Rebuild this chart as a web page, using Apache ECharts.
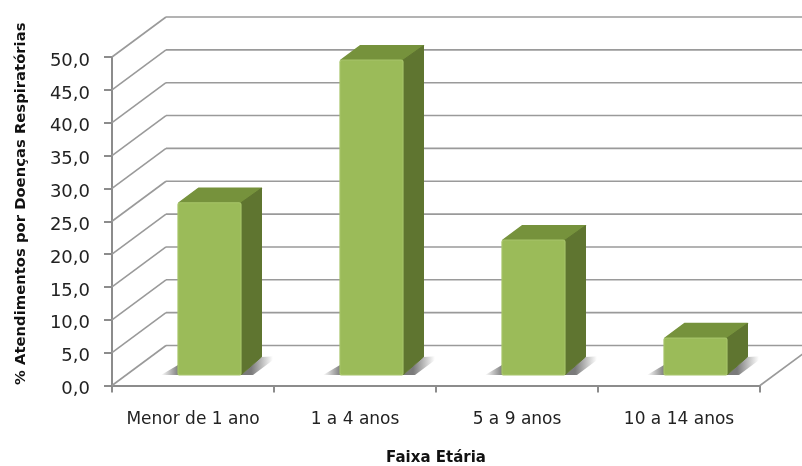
<!DOCTYPE html>
<html>
<head>
<meta charset="utf-8">
<style>html,body{margin:0;padding:0;background:#fff}#chart{width:802px;height:466px}</style>
<script src="https://cdn.jsdelivr.net/npm/echarts@6/dist/echarts.min.js"></script>
</head>
<body>
<div id="chart"></div>
<script>
// Respiratory-care visits by age group
const categories = ['Menor de 1 ano', '1 a 4 anos', '5 a 9 anos', '10 a 14 anos'];
const percentValues = [26.2, 47.9, 20.5, 5.6];
const valueTicks = [0, 5, 10, 15, 20, 25, 30, 35, 40, 45, 50];

// Oblique projection of the chart box
const WALL_DX = 54, WALL_DY = -40;
const BAR_DX = 16.5, BAR_DY = -10.6, BAR_W = 63;
const DEPTH_DX = 20.5, DEPTH_DY = -14.5, DEPTH_FLOOR_DY = -18;
const FONT = '"DejaVu Sans", sans-serif';

const gridStyle = { stroke: '#9a9a9a', lineWidth: 1.6, fill: null };

function line(x1, y1, x2, y2) {
  return { type: 'line', shape: { x1, y1, x2, y2 }, style: gridStyle, silent: true };
}

function renderWall(params, api) {
  const p = api.coord([0, api.value(0)]);
  const cs = params.coordSys;
  const x0 = cs.x, x1 = cs.x + cs.width;
  const backX = x0 + WALL_DX, backY = p[1] + WALL_DY;
  const kids = [
    line(x0, p[1], backX, backY),
    line(backX, backY, x1 + WALL_DX, backY)
  ];
  if (api.value(0) === 0) kids.push(line(x1, p[1], x1 + WALL_DX, backY));
  return { type: 'group', children: kids };
}

function renderBar(params, api) {
  const i = api.value(0);
  const base = api.coord([i, 0]);
  const top = api.coord([i, api.value(1)]);
  const l = base[0] + BAR_DX - BAR_W / 2, r = l + BAR_W;
  const by = base[1] + BAR_DY, ty = top[1] + BAR_DY;
  return {
    type: 'group',
    children: [
      // cast shadow on the floor, left and right of the bar
      { type: 'polygon', silent: true,
        shape: { points: [[l, by], [l - 17, by], [l, by - 10]] },
        style: { fill: { type: 'linear', x: 1, y: 0, x2: 0, y2: 0,
          colorStops: [{ offset: 0, color: '#808080' }, { offset: 1, color: '#ffffff' }] } } },
      { type: 'polygon', silent: true,
        shape: { points: [[r, by], [r + DEPTH_DX, by + DEPTH_FLOOR_DY], [r + DEPTH_DX + 17, by + DEPTH_FLOOR_DY - 1], [r + 12, by]] },
        style: { fill: { type: 'linear', x: 0.27, y: 0.5, x2: 0.85, y2: 0.5,
          colorStops: [{ offset: 0, color: '#7a7a7a' }, { offset: 0.55, color: '#c4c4c4' }, { offset: 1, color: '#ffffff' }] } } },
      // top face
      { type: 'polygon', silent: true,
        shape: { points: [[l + 1, ty], [l + DEPTH_DX, ty + DEPTH_DY], [r + DEPTH_DX, ty + DEPTH_DY], [r, ty]] },
        style: { fill: '#76923c', stroke: '#76923c', lineWidth: 1.5, lineJoin: 'round' } },
      // side face
      { type: 'polygon', silent: true,
        shape: { points: [[r, ty], [r + DEPTH_DX, ty + DEPTH_DY], [r + DEPTH_DX, by + DEPTH_FLOOR_DY], [r, by]] },
        style: { fill: '#5f7530', stroke: '#5f7530', lineWidth: 1, lineJoin: 'round' } },
      // front face
      { type: 'rect', silent: true,
        shape: { x: l, y: ty, width: BAR_W, height: by - ty, r: 2 },
        style: { fill: '#9bbb59', stroke: '#a6c468', lineWidth: 1.2 } }
    ]
  };
}

const chart = echarts.init(document.getElementById('chart'), null, { renderer: 'canvas' });
chart.setOption({
  animation: false,
  backgroundColor: '#ffffff',
  grid: { left: 112, right: 42, top: 57, bottom: 80.5, outerBoundsMode: 'none' },
  xAxis: {
    type: 'category',
    data: categories,
    name: 'Faixa Etária',
    nameLocation: 'middle',
    nameGap: 65,
    nameTextStyle: { fontFamily: FONT, fontSize: 15, fontWeight: 'bold', color: '#111' },
    axisLine: { lineStyle: { color: '#8c8c8c', width: 2 } },
    axisTick: { show: true, interval: 0, length: 7, lineStyle: { color: '#8c8c8c', width: 2 } },
    axisLabel: { interval: 0, fontFamily: FONT, fontSize: 17, color: '#222', margin: 26 }
  },
  yAxis: {
    type: 'value',
    min: 0,
    max: 50,
    interval: 5,
    name: '% Atendimentos por Doenças Respiratórias',
    nameLocation: 'middle',
    nameGap: 83,
    nameRotate: 90,
    nameTextStyle: { fontFamily: FONT, fontSize: 14.8, fontWeight: 'bold', color: '#111', padding: [0, 0, 0, 35] },
    axisLine: { show: true, lineStyle: { color: '#8c8c8c', width: 2 } },
    axisTick: { show: true, length: 8, lineStyle: { color: '#8c8c8c', width: 2 } },
    splitLine: { show: false },
    axisLabel: {
      fontFamily: FONT, fontSize: 18, color: '#222', margin: 22,
      verticalAlign: 'top', lineHeight: 8,
      formatter: v => v.toFixed(1).replace('.', ',')
    }
  },
  series: [
    { type: 'custom', name: 'wall', renderItem: renderWall, clip: false, silent: true, z: 1,
      data: valueTicks.map(v => [v]), encode: { y: 0 } },
    { type: 'custom', name: 'bars', renderItem: renderBar, clip: false, silent: true, z: 2,
      data: percentValues.map((v, i) => [i, v]), encode: { x: 0, y: 1 } }
  ]
});
</script>
</body>
</html>
